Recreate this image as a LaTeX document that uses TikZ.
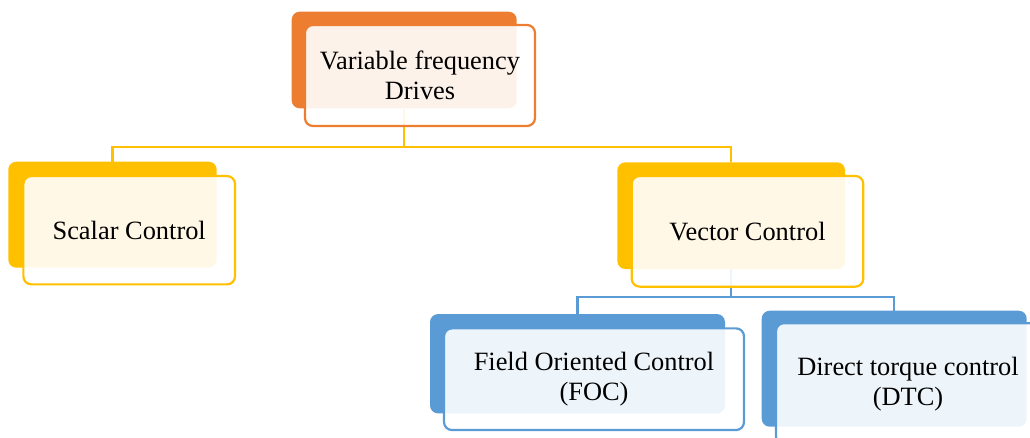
\documentclass[tikz,border=0pt]{standalone}
\usepackage{fontspec}
\setmainfont{Liberation Serif}
\usepackage{xcolor}
\definecolor{vfdorange}{HTML}{ED7D31}
\definecolor{ctrlgold}{HTML}{FFC000}
\definecolor{ctrlblue}{HTML}{5B9BD5}
\tikzstyle{backbox}=[rounded corners=8pt,inner sep=0pt]
\tikzstyle{frontbox}=[draw,line width=2.2pt,rounded corners=8pt,fill=white,fill opacity=.9,text opacity=1,
  inner sep=0pt,align=center,font=\fontsize{26.4}{29.5}\selectfont]
\tikzstyle{branch}=[line width=2.2pt]
\begin{document}
\begin{tikzpicture}[x=1pt,y=-1pt]
	\clip (0,0) rectangle (1030,437);
	\coordinate (topbus) at (404,147);
	\coordinate (vecbus) at (731,297);
	% back plates
	\node[backbox,fill=vfdorange,minimum width=225pt,minimum height=96.6pt] (vfdback) at (404.2,60) {};
	\node[backbox,fill=ctrlgold,minimum width=208.4pt,minimum height=106pt] (scalarback) at (112.5,214.7) {};
	\node[backbox,fill=ctrlgold,minimum width=227.7pt,minimum height=106.7pt] (vectorback) at (731.2,215.7) {};
	\node[backbox,fill=ctrlblue,minimum width=295pt,minimum height=99.3pt] (focback) at (577.5,363.7) {};
	\node[backbox,fill=ctrlblue,minimum width=265pt,minimum height=116pt] (dtcback) at (894.2,368.7) {};
	% connectors
	\draw[branch,ctrlgold] (vfdback.south) -- (vfdback.south |- topbus) -| (scalarback.north);
	\draw[branch,ctrlgold] (vfdback.south |- topbus) -| (vectorback.north);
	\draw[branch,ctrlblue] (vectorback.south) -- (vectorback.south |- vecbus) -| (focback.north);
	\draw[branch,ctrlblue] (vectorback.south |- vecbus) -| (dtcback.north);
	% front plates
	\node[frontbox,draw=vfdorange,minimum width=230pt,minimum height=101pt] (vfd) at (420,75.5) {Variable frequency\\Drives};
	\node[frontbox,draw=ctrlgold,minimum width=211.7pt,minimum height=108.3pt] (scalar) at (129.2,230.2) {Scalar Control};
	\node[frontbox,draw=ctrlgold,minimum width=231.6pt,minimum height=110.7pt] (vector) at (747.5,231.3) {Vector Control};
	\node[frontbox,draw=ctrlblue,minimum width=300pt,minimum height=101.7pt] (foc) at (594,379.2) {Field Oriented Control\\(FOC)};
	\node[frontbox,draw=ctrlblue,minimum width=264pt,minimum height=121.7pt] (dtc) at (908,384) {Direct torque control\\(DTC)};
\end{tikzpicture}
\end{document}
